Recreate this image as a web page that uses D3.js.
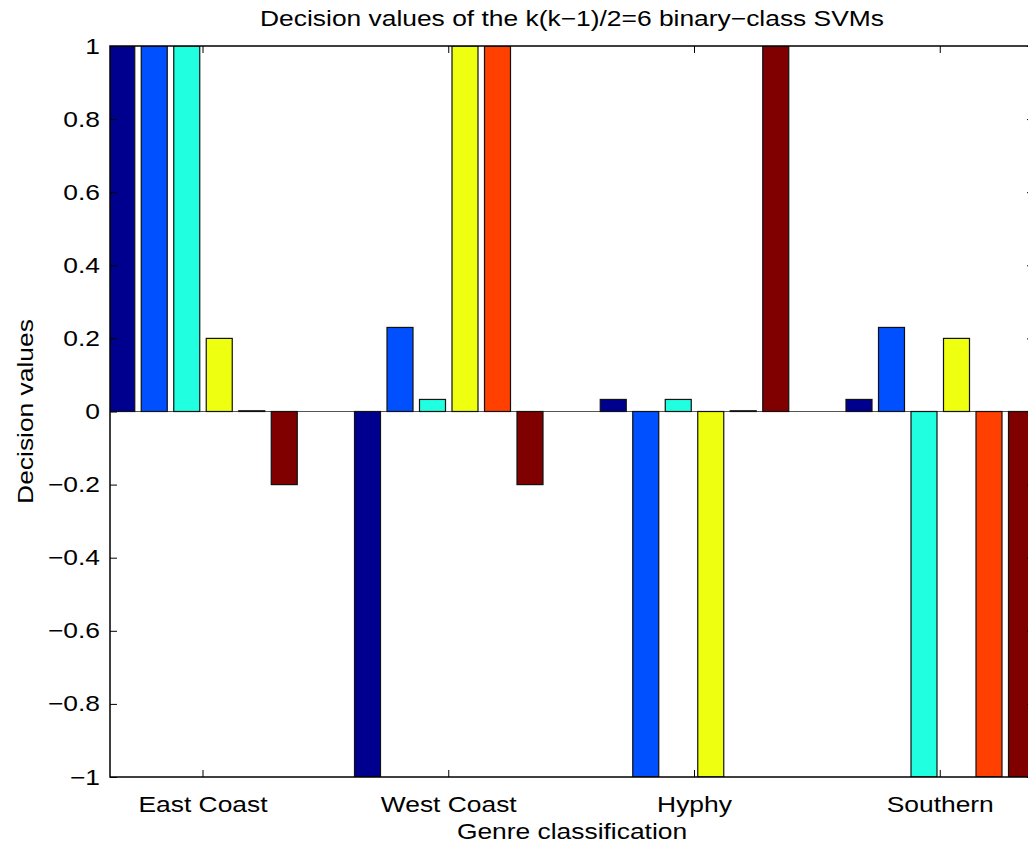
<!DOCTYPE html>
<html>
<head>
<meta charset="utf-8">
<script src="https://cdn.jsdelivr.net/npm/d3@7"></script>
<style>
  body { margin: 0; background: #fff; }
  text { font-family: "Liberation Sans", Arial, Helvetica, sans-serif; fill: #000; }
</style>
</head>
<body>
<div id="chart-area"></div>
<script>
// genres on the x axis
var categories = ["East Coast", "West Coast", "Hyphy", "Southern"];
// one bar per binary SVM
var svms = ["svm1", "svm2", "svm3", "svm4", "svm5", "svm6"];
// decision values, one array per genre (order of svms)
var eastCoast = [1, 1, 1, 0.2, 0.002, -0.2];
var westCoast = [-1, 0.23, 0.033, 1, 1, -0.2];
var hyphy = [0.033, -1, 0.033, -1, 0.002, 1];
var southern = [0.033, 0.23, -1, 0.2, -1, -1];
var yTicks = [-1, -0.8, -0.6, -0.4, -0.2, 0, 0.2, 0.4, 0.6, 0.8, 1];
var colors = ["#00008f", "#0050ff", "#20ffdf", "#efff10", "#ff4000", "#800000"];

var rows = [eastCoast, westCoast, hyphy, southern];
var data = [];
categories.forEach((c, i) => {
  rows[i].forEach((v, j) => data.push({ genre: c, svm: svms[j], value: v }));
});

var width = 1028;
var height = 845;
var margin = { left: 110, right: 1034, top: 46, bottom: 777 };
var sx = 1.2; // glyphs in the picture are stretched horizontally
var fs = 22;

var svg = d3.select("#chart-area")
  .append("svg")
  .attr("width", width)
  .attr("height", height)
  .style("display", "block");

var step = 245.75;
var x = d3.scaleBand()
  .domain(categories)
  .range([203 - step / 2, 203 + step * 3.5])
  .padding(0);

var xInner = d3.scaleBand()
  .domain(svms)
  .range([-94.25, 94.25])
  .paddingInner(0.2)
  .paddingOuter(0);

var y = d3.scaleLinear()
  .domain([-1, 1])
  .range([margin.bottom, margin.top]);

svg.append("clipPath").attr("id", "clip")
  .append("rect")
  .attr("x", margin.left).attr("y", margin.top)
  .attr("width", margin.right - margin.left).attr("height", margin.bottom - margin.top);

var plot = svg.append("g").attr("clip-path", "url(#clip)");

// zero baseline
plot.append("line")
  .attr("x1", margin.left).attr("x2", margin.right)
  .attr("y1", y(0)).attr("y2", y(0))
  .attr("stroke", "#555")
  .attr("stroke-width", 1.2);

plot.selectAll("rect.bar")
  .data(data)
  .enter().append("rect")
  .attr("class", "bar")
  .attr("x", d => x(d.genre) + x.bandwidth() / 2 + xInner(d.svm))
  .attr("width", xInner.bandwidth())
  .attr("y", d => y(Math.max(0, d.value)))
  .attr("height", d => Math.abs(y(d.value) - y(0)))
  .attr("fill", d => colors[svms.indexOf(d.svm)])
  .attr("stroke", "#111")
  .attr("stroke-width", 1.2);

function stretchText(sel) {
  sel.each(function () {
    var t = d3.select(this);
    var xv = +t.attr("x") || 0;
    t.attr("x", xv / sx).attr("transform", "scale(" + sx + ",1)");
  });
}

// axes, ticks inward, MATLAB box
var yAxisL = svg.append("g")
  .attr("transform", "translate(" + margin.left + ",0)")
  .call(d3.axisLeft(y).tickValues(yTicks).tickFormat(d3.format("~g"))
    .tickSizeInner(-7).tickSizeOuter(0).tickPadding(10));
yAxisL.selectAll("text").style("font-size", fs + "px").call(stretchText);

var yAxisR = svg.append("g")
  .attr("transform", "translate(" + margin.right + ",0)")
  .call(d3.axisRight(y).tickValues(yTicks).tickFormat("")
    .tickSizeInner(-7).tickSizeOuter(0));

var xAxisB = svg.append("g")
  .attr("transform", "translate(0," + margin.bottom + ")")
  .call(d3.axisBottom(x).tickSizeInner(-7).tickSizeOuter(0).tickPadding(19));
xAxisB.selectAll("text").style("font-size", fs + "px").call(stretchText);

var xAxisT = svg.append("g")
  .attr("transform", "translate(0," + margin.top + ")")
  .call(d3.axisTop(x).tickFormat("").tickSizeInner(-7).tickSizeOuter(0));

[yAxisL, yAxisR, xAxisB, xAxisT].forEach(a => {
  a.select(".domain").remove();
  a.selectAll(".tick line").attr("stroke", "#000").attr("stroke-width", 1);
});

svg.append("rect")
  .attr("x", margin.left).attr("y", margin.top)
  .attr("width", margin.right - margin.left).attr("height", margin.bottom - margin.top)
  .attr("fill", "none")
  .attr("stroke", "#000")
  .attr("stroke-width", 1.5);

var cx = (margin.left + margin.right) / 2;

svg.append("text")
  .attr("transform", "translate(" + cx + ",26) scale(" + sx + ",1)")
  .attr("text-anchor", "middle")
  .style("font-size", fs + "px")
  .text("Decision values of the k(k\u22121)/2=6 binary\u2212class SVMs");

svg.append("text")
  .attr("transform", "translate(" + cx + ",839) scale(" + sx + ",1)")
  .attr("text-anchor", "middle")
  .style("font-size", fs + "px")
  .text("Genre classification");

svg.append("text")
  .attr("transform", "translate(33," + ((margin.top + margin.bottom) / 2) + ") rotate(-90) scale(" + sx + ",1)")
  .attr("text-anchor", "middle")
  .style("font-size", fs + "px")
  .text("Decision values");
</script>
</body>
</html>
